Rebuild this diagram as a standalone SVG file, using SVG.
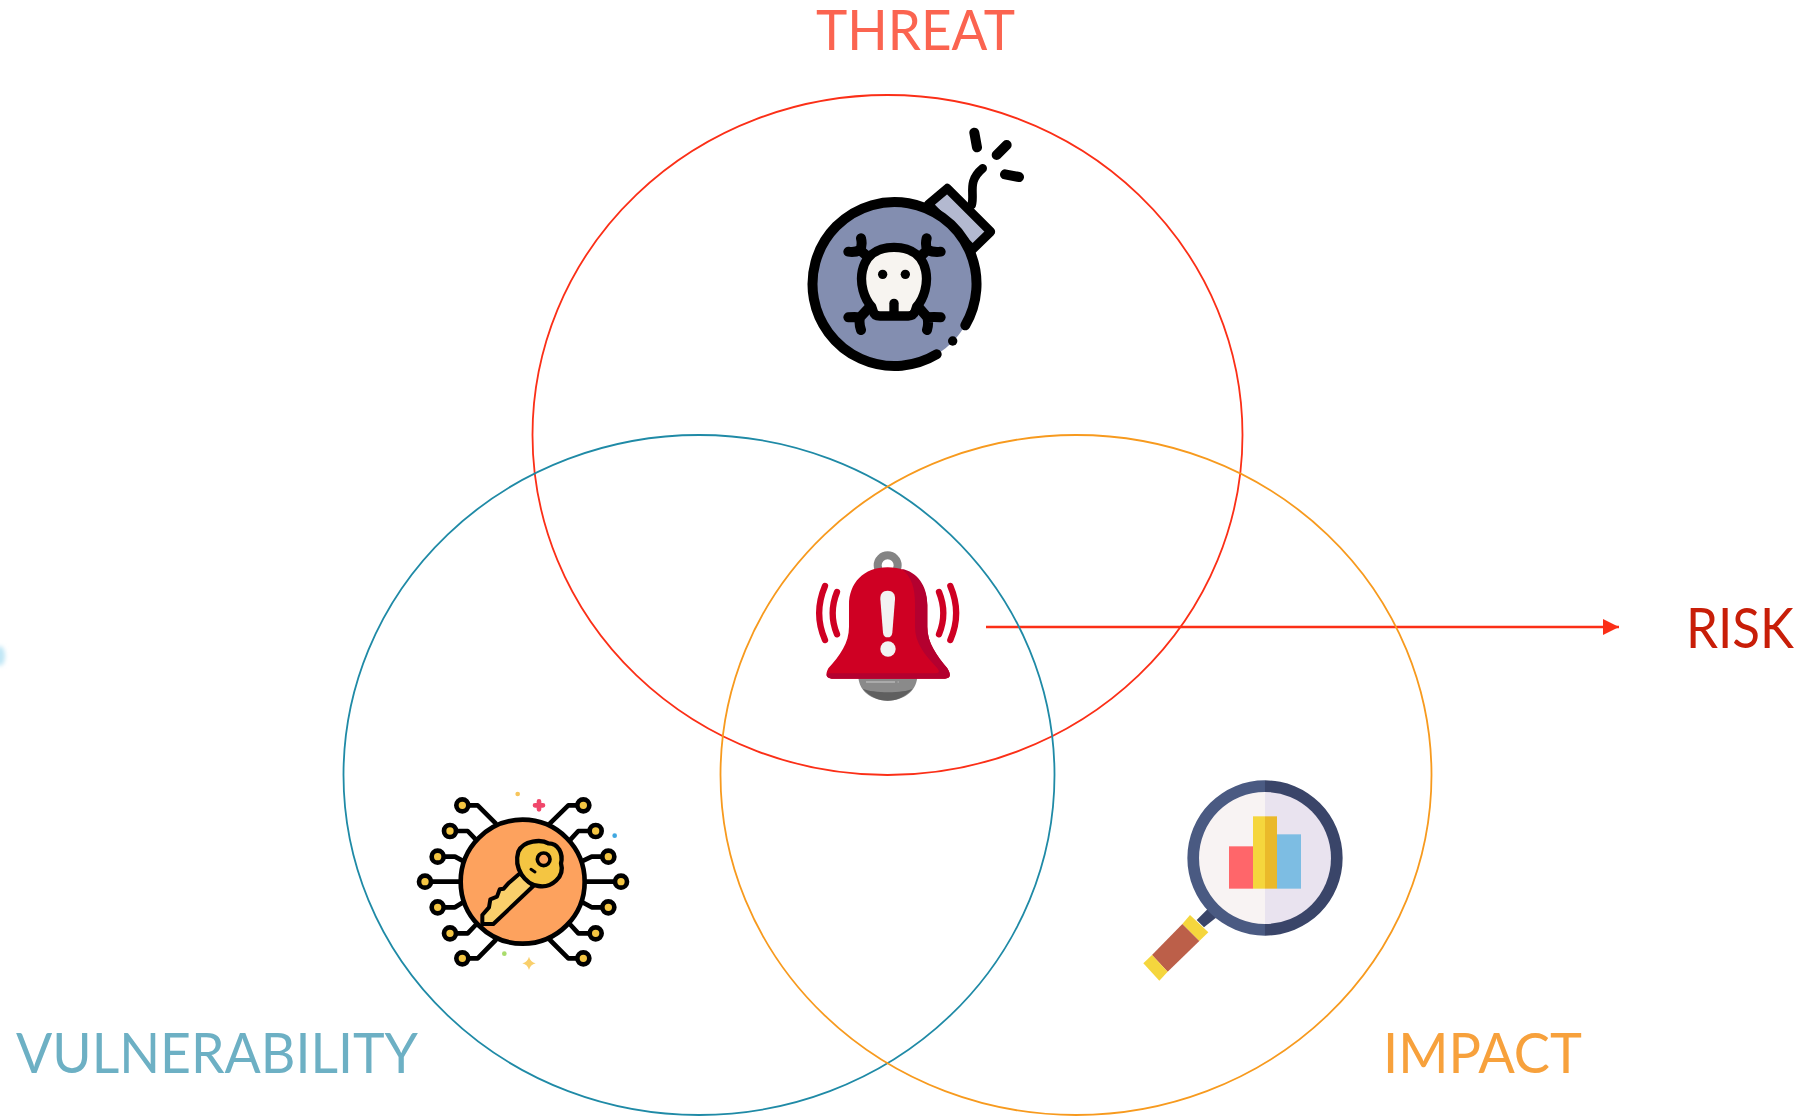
<svg xmlns="http://www.w3.org/2000/svg" width="1809" height="1117" viewBox="0 0 1809 1117">
<style>
text{font-family:"Lato","Open Sans","Liberation Sans",sans-serif;font-size:57px}
.c{fill:none;stroke-width:1.8}
.k{fill:none;stroke:#000;stroke-linecap:round;stroke-linejoin:round}
.n{fill:#f4c542;stroke:#000;stroke-width:14}
</style>
<defs>
<marker id="arr" markerUnits="userSpaceOnUse" markerWidth="17" markerHeight="16" refX="16" refY="8" orient="auto"><path d="M0 0L16 8L0 16Z" fill="#fb2f17"/></marker>
<filter id="bl" x="-100%" y="-100%" width="300%" height="300%"><feGaussianBlur stdDeviation="2"/></filter>
</defs>
<rect width="1809" height="1117" fill="#fff"/>
<ellipse cx="0" cy="656" rx="5" ry="10" fill="#bfe6f5" filter="url(#bl)"/>
<g id="connectors">
<path d="M986 627H1619" fill="none" stroke="#fb2f17" stroke-width="2.4" marker-end="url(#arr)"/>
</g>
<g id="circle-threat"><ellipse class="c" cx="887.5" cy="435" rx="355" ry="340" stroke="#fb2f17"/></g>
<g id="circle-vulnerability"><ellipse class="c" cx="699" cy="775" rx="355.500" ry="340" stroke="#1f8aa6"/></g>
<g id="circle-impact"><ellipse class="c" cx="1076" cy="775" rx="355.500" ry="340" stroke="#f79a1e"/></g>
<g id="threat">
<text x="816" y="50" fill="#fb6450" textLength="199" lengthAdjust="spacingAndGlyphs">THREAT</text>
<g transform="translate(780 110) scale(.33333)">
<path d="M445 283L502 235L632 365L578 418Z" fill="#b3b9d0" stroke="#000" stroke-width="27" stroke-linejoin="round"/>
<circle cx="342" cy="522" r="247" fill="#838eb0"/>
<path class="k" stroke-width="30" d="M556 646A246 246 0 1 0 470 733"/>
<path class="k" stroke-width="28" d="M518 693h.1"/>
<path class="k" stroke-width="26" d="M575 285C585 250 560 215 608 175"/>
<path class="k" stroke-width="30" d="M583 68L591 112M650 135L680 105M675 193L717 201"/>
<path class="k" stroke-width="30" d="M275 450L240 420M243 385Q248 405 240 420M205 425Q225 428 240 420M410 450L442 420M440 385Q435 405 442 420M482 425Q462 428 442 420M270 590L240 622M205 622Q225 620 240 622M243 660Q236 640 240 622M414 590L442 622M482 622Q462 620 442 622M441 660Q447 640 442 622"/>
<path d="M275 590C228 540 225 412 342 412C460 412 455 540 410 590L405 605Q400 618 385 618H300Q283 618 280 605Z" fill="#f7f4f0" stroke="#000" stroke-width="28" stroke-linejoin="round"/>
<circle cx="308" cy="493" r="14"/><circle cx="376" cy="493" r="14"/>
<path class="k" stroke-width="28" d="M342 580V612"/>
</g>
</g>
<g id="risk">
<text x="1686" y="648" fill="#c81e08" textLength="108" lengthAdjust="spacingAndGlyphs">RISK</text>
<g transform="translate(790 540) scale(.33333)">
<circle cx="293" cy="76" r="30" fill="#fff" stroke="#848484" stroke-width="24"/>
<path d="M205 412H382C378 455 340 482 293 482C246 482 208 455 205 412Z" fill="#8a8a8a"/>
<path d="M218 446C240 470 265 482 293 482C321 482 346 470 368 446C340 460 250 460 218 446Z" fill="#5f5f5f"/>
<path d="M228 426H315M323 426h3" stroke="#b5b5b5" stroke-width="4" fill="none"/>
<path d="M293 82C220 82 177 130 177 195V260C177 310 150 345 115 385Q100 415 125 416H465Q490 415 472 385C440 345 412 310 412 260V195C412 130 365 82 293 82Z" fill="#cf0023"/>
<path d="M335 87C365 110 375 145 375 190V262C375 310 405 345 442 385Q455 400 435 400H112Q104 412 125 416H465Q490 415 472 385C440 345 412 310 412 260V195C412 135 380 95 335 87Z" fill="#b4002f"/>
<path d="M293 152C278 152 270 162 271 178L279 278Q281 292 293 292Q305 292 307 278L315 178C316 162 308 152 293 152Z" fill="#f2f2f2"/>
<ellipse cx="294" cy="327" rx="23" ry="23" fill="#f2f2f2"/>
<path d="M105 138Q70 220 105 300M141 156Q115 220 141 283M481 138Q516 220 481 300M447 156Q473 220 447 283" fill="none" stroke="#cf0023" stroke-width="19" stroke-linecap="round"/>
</g>
</g>
<g id="vulnerability">
<text x="16" y="1073" fill="#6db0c4" textLength="402" lengthAdjust="spacingAndGlyphs">VULNERABILITY</text>
<g transform="translate(405 780) scale(.33333)">
<g class="k" stroke-width="14">
<path d="M172 76H218L272 130M135 153H188L212 178M98 230H150L172 242M60 305H168M98 382H150L172 368M135 460H188L212 435M172 535H218L272 480"/>
<path d="M535 76H490L435 130M572 153H520L497 178M610 230H560L535 242M648 305H545M610 382H560L535 368M572 460H520L497 435M535 535H490L435 480"/>
</g>
<circle cx="172" cy="76" r="18" class="n"/><circle cx="135" cy="153" r="18" class="n"/><circle cx="98" cy="230" r="18" class="n"/><circle cx="60" cy="305" r="18" class="n"/><circle cx="98" cy="382" r="18" class="n"/><circle cx="135" cy="460" r="18" class="n"/><circle cx="172" cy="535" r="18" class="n"/>
<circle cx="535" cy="76" r="18" class="n"/><circle cx="572" cy="153" r="18" class="n"/><circle cx="610" cy="230" r="18" class="n"/><circle cx="648" cy="305" r="18" class="n"/><circle cx="610" cy="382" r="18" class="n"/><circle cx="572" cy="460" r="18" class="n"/><circle cx="535" cy="535" r="18" class="n"/>
<circle cx="353" cy="305" r="186" fill="#fda25e" stroke="#000" stroke-width="14"/>
<path d="M345 280L312 308L296 326L284 328L276 350L256 358L252 382L232 405V432H265L385 318Z" fill="#f9cf6b" stroke="#000" stroke-width="12" stroke-linejoin="round"/>
<path d="M340 215C355 180 410 178 430 190C460 190 475 220 468 250C480 290 440 325 400 318C360 312 325 265 340 215Z" fill="#f4c542" stroke="#000" stroke-width="13" stroke-linejoin="round"/>
<circle cx="416" cy="238" r="19" fill="#fda25e" stroke="#000" stroke-width="11"/>
<path class="k" stroke-width="9" d="M378 268L390 276"/>
<circle cx="338" cy="42" r="7" fill="#f7c55b"/>
<path d="M402 64V88M390 76H414" fill="none" stroke="#f0476b" stroke-width="14" stroke-linecap="round"/>
<circle cx="629" cy="167" r="7" fill="#3fa7e0"/>
<circle cx="298" cy="521" r="7" fill="#a9dc6c"/>
<path d="M372 530Q376 546 392 550Q376 554 372 570Q368 554 352 550Q368 546 372 530Z" fill="#f9cf6b"/>
</g>
</g>
<g id="impact">
<text x="1383" y="1073" fill="#f7a13c" textLength="199" lengthAdjust="spacingAndGlyphs">IMPACT</text>
<g transform="translate(1130 770) scale(.33333)">
<path d="M200 450L222 472L275 430L245 405Z" fill="#3a4569"/>
<path d="M180 435L235 487L208 513L157 462Z" fill="#f5d63d"/>
<path d="M157 462L208 513L113 605L66 555Z" fill="#bc5f49"/>
<path d="M66 555L113 605L88 632L40 580Z" fill="#f5d63d"/>
<path d="M405 31A233 233 0 0 0 405 497Z" fill="#4a5a82"/>
<path d="M405 31A233 233 0 0 1 405 497Z" fill="#3a4569"/>
<path d="M405 66A198 198 0 0 0 405 462Z" fill="#f8f3f3"/>
<path d="M405 66A198 198 0 0 1 405 462Z" fill="#e9e3ef"/>
<rect x="297" y="229" width="72" height="127" fill="#ff666a"/>
<rect x="369" y="139" width="36" height="217" fill="#f5d63d"/>
<rect x="405" y="139" width="36" height="217" fill="#eab92a"/>
<rect x="441" y="193" width="72" height="163" fill="#7dbde3"/>
</g>
</g>
</svg>
